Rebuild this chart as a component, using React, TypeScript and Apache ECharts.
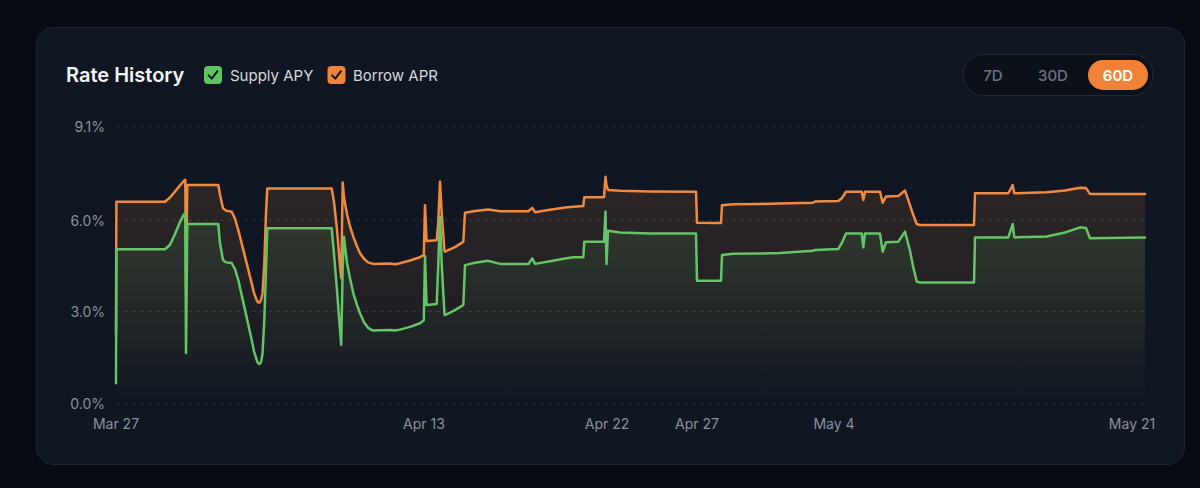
import React, { useEffect, useRef } from "react";
import * as echarts from "echarts";

// Snapshot index along the timeline (uneven sampling of the original series)
const sampleIndex = [
  0, 0.4, 49, 54, 59, 64, 68, 69.3, 70, 71.3, 102.3, 104, 107, 110, 115.7, 119, 122.3, 129, 135.7, 138, 140.7, 142,
  143.5, 145, 146.5, 148.3, 150, 151.3, 215.7, 218, 221, 224, 225.2, 226.7, 228, 231, 234, 237.5, 241, 244, 248, 252,
  257, 274, 279, 284, 294, 304, 307.8, 309, 310.6, 320.7, 322.2, 324, 325.8, 328.5, 329, 339, 347.3, 349, 359, 372.3,
  384, 412.3, 416.3, 419, 434, 449, 457.3, 467.3, 468.3, 488, 489.5, 490.5, 492, 504, 534, 580, 581, 605, 606, 617,
  644, 664, 697, 699, 722.3, 725.7, 730, 745.7, 747.3, 749, 764, 766.7, 770, 782.3, 789, 794, 797, 800.7, 804, 858,
  859, 892.3, 896.7, 898.3, 930.7, 949, 964, 970, 974, 1029,
];

const borrowApr = [
  2.29, 6.61, 6.61, 6.75, 6.95, 7.15, 7.3, 7.33, 3.78, 7.16, 7.16, 6.85, 6.4, 6.32, 6.28, 6.05, 5.68, 4.81, 3.93, 3.62,
  3.38, 3.31, 3.3, 3.38, 3.6, 4.59, 6.23, 7.05, 7.05, 6.6, 5.7, 4.5, 4.1, 7.24, 6.75, 6.2, 5.8, 5.45, 5.15, 4.92, 4.74,
  4.62, 4.57, 4.58, 4.56, 4.59, 4.68, 4.79, 4.86, 6.5, 5.32, 5.35, 5.9, 7.27, 6.2, 5.0, 4.97, 5.12, 5.3, 6.25, 6.31,
  6.36, 6.3, 6.3, 6.41, 6.27, 6.35, 6.42, 6.45, 6.47, 6.76, 6.76, 7.43, 7.15, 7.0, 6.97, 6.95, 6.94, 5.92, 5.91, 6.5,
  6.53, 6.54, 6.55, 6.58, 6.62, 6.64, 6.72, 6.94, 6.94, 6.67, 6.94, 6.94, 6.58, 6.78, 6.8, 6.98, 6.5, 6.2, 5.88, 5.85,
  5.85, 6.89, 6.89, 7.16, 6.89, 6.92, 6.98, 7.07, 7.06, 6.87, 6.87,
];

const supplyApy = [
  0.65, 5.05, 5.05, 5.2, 5.55, 5.95, 6.2, 6.23, 1.64, 5.88, 5.88, 5.25, 4.7, 4.62, 4.6, 4.4, 4.04, 3.06, 2.07, 1.7,
  1.41, 1.31, 1.28, 1.34, 1.62, 2.73, 4.37, 5.74, 5.74, 4.9, 3.7, 2.4, 1.91, 4.5, 5.46, 4.6, 4.1, 3.58, 3.22, 2.95,
  2.65, 2.47, 2.38, 2.4, 2.38, 2.41, 2.5, 2.62, 2.72, 4.83, 3.22, 3.25, 4.5, 6.12, 4.5, 2.92, 2.89, 3.05, 3.22, 4.53,
  4.61, 4.67, 4.57, 4.57, 4.75, 4.57, 4.66, 4.75, 4.79, 4.79, 5.3, 5.3, 6.29, 4.57, 5.66, 5.6, 5.57, 5.57, 4.02, 4.02,
  4.86, 4.9, 4.91, 4.93, 5.0, 5.03, 5.06, 5.25, 5.57, 5.57, 5.11, 5.57, 5.57, 4.97, 5.28, 5.3, 5.63, 5.0, 4.5, 3.99,
  3.96, 3.96, 5.44, 5.44, 5.88, 5.44, 5.47, 5.6, 5.77, 5.75, 5.41, 5.44,
];

const xTickIndex = [0, 308, 491, 581, 718, 1016];
const xTickLabels = ["Mar 27", "Apr 13", "Apr 22", "Apr 27", "May 4", "May 21"];
const yTicks = [0, 3, 6, 9.1];
const legendNames = ["Supply APY", "Borrow APR"];
const rangeLabels = ["7D", "30D", "60D"];

const FONT = "Inter, 'Noto Sans', 'DejaVu Sans', sans-serif";
const ORANGE = "#f08a3e";
const GREEN = "#63c566";

function textEl(text: string, x: number, y: number, size: number, fill: string, weight: number | string, align: string) {
  return {
    type: "text",
    style: {
      text,
      x,
      y,
      fill,
      font: `${weight} ${size}px ${FONT}`,
      align,
      verticalAlign: "middle",
      textAlign: align,
      textVerticalAlign: "middle",
    },
  };
}

function checkbox(x: number, color: string) {
  return [
    { type: "rect", shape: { x, y: 66, width: 18, height: 18, r: 4 }, style: { fill: color } },
    {
      type: "polyline",
      shape: { points: [[x + 4.6, 75.4], [x + 7.8, 78.6], [x + 13.4, 71.2]] },
      style: { stroke: "#10151e", lineWidth: 2, fill: null, lineCap: "round", lineJoin: "round" },
    },
  ];
}

export default function App() {
  const ref = useRef<HTMLDivElement>(null);

  useEffect(() => {
    if (!ref.current) return;
    const chart = echarts.init(ref.current, null, { renderer: "svg" });

    const borrowData = sampleIndex.map((x, i) => [x, borrowApr[i]]);
    const supplyData = sampleIndex.map((x, i) => [x, supplyApy[i]]);

    const graphic: any[] = [
      textEl("Rate History", 66, 75, 20, "#f3f4f6", 600, "left"),
      ...checkbox(204, "#5ec461"),
      textEl(legendNames[0], 230, 75, 15, "#d6d9de", 400, "left"),
      ...checkbox(327.5, "#ef8438"),
      textEl(legendNames[1], 353, 75, 15, "#d6d9de", 400, "left"),
      {
        type: "rect",
        shape: { x: 963, y: 54.5, width: 190, height: 41, r: 20.5 },
        style: { fill: "#0c1119", stroke: "#222a36", lineWidth: 1 },
      },
      {
        type: "rect",
        shape: { x: 1088, y: 60, width: 60, height: 30, r: 15 },
        style: { fill: "#ef8236" },
      },
      textEl(rangeLabels[0], 993, 75, 15, "#6b7380", 500, "center"),
      textEl(rangeLabels[1], 1053, 75, 15, "#6b7380", 500, "center"),
      textEl(rangeLabels[2], 1118, 75, 15, "#ffffff", 600, "center"),
    ];

    chart.setOption({
      animation: false,
      backgroundColor: "transparent",
      textStyle: { fontFamily: FONT },
      grid: { left: 116, right: 55, top: 126, bottom: 85, containLabel: false },
      xAxis: {
        type: "value",
        min: 0,
        max: 1029,
        axisLine: { show: false },
        axisTick: { show: false },
        splitLine: { show: false },
        axisLabel: {
          customValues: xTickIndex,
          formatter: (v: number) => {
            const i = xTickIndex.indexOf(v);
            return i >= 0 ? xTickLabels[i] : "";
          },
          color: "#8a919c",
          fontSize: 14,
          fontFamily: FONT,
          margin: 13,
        },
      },
      yAxis: {
        type: "value",
        min: 0,
        max: 9.1,
        axisLine: { show: false },
        axisTick: { show: false, customValues: yTicks },
        axisLabel: {
          customValues: yTicks,
          formatter: (v: number) => v.toFixed(1) + "%",
          color: "#8a919c",
          fontSize: 14,
          fontFamily: FONT,
          margin: 11,
        },
        splitLine: { show: true, lineStyle: { color: "#272e3a", type: [4, 4], width: 1 } },
      },
      series: [
        {
          name: legendNames[1],
          type: "line",
          data: borrowData,
          symbol: "none",
          showSymbol: false,
          lineStyle: { color: ORANGE, width: 2.5, join: "round", cap: "round" },
          itemStyle: { color: ORANGE },
          areaStyle: {
            color: new echarts.graphic.LinearGradient(0, 0, 0, 1, [
              { offset: 0, color: "rgba(240,138,62,0.17)" },
              { offset: 0.45, color: "rgba(240,138,62,0.12)" },
              { offset: 1, color: "rgba(240,138,62,0)" },
            ]),
          },
          z: 2,
        },
        {
          name: legendNames[0],
          type: "line",
          data: supplyData,
          symbol: "none",
          showSymbol: false,
          lineStyle: { color: GREEN, width: 2.5, join: "round", cap: "round" },
          itemStyle: { color: GREEN },
          areaStyle: {
            color: new echarts.graphic.LinearGradient(0, 0, 0, 1, [
              { offset: 0, color: "rgba(99,197,102,0.19)" },
              { offset: 0.5, color: "rgba(99,197,102,0.08)" },
              { offset: 1, color: "rgba(99,197,102,0)" },
            ]),
          },
          z: 3,
        },
      ],
      graphic,
    });

    return () => chart.dispose();
  }, []);

  return (
    <div style={{ position: "fixed", left: 0, top: 0, width: 1200, height: 488, background: "#080b12", overflow: "hidden" }}>
      <div
        style={{
          position: "absolute",
          left: 36,
          top: 27,
          width: 1149,
          height: 438,
          boxSizing: "border-box",
          borderRadius: 18,
          background: "#111722",
          border: "1px solid #1f2733",
        }}
      />
      <div ref={ref} style={{ position: "absolute", left: 0, top: 0, width: 1200, height: 488 }} />
    </div>
  );
}
